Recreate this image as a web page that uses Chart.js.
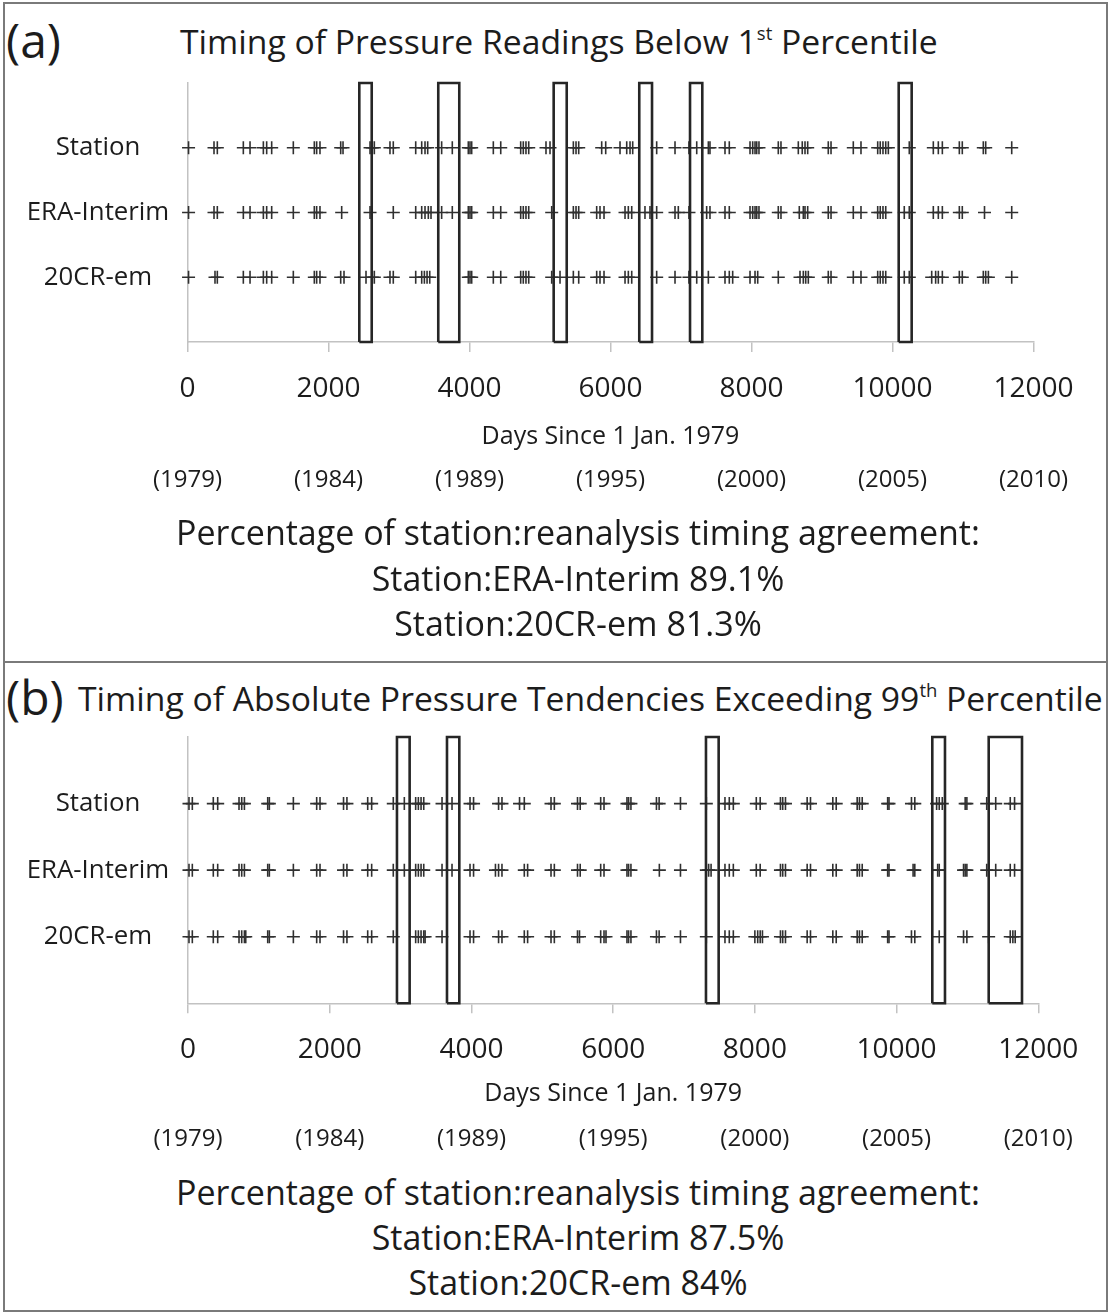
<!DOCTYPE html>
<html>
<head>
<meta charset="utf-8">
<script src="https://cdn.jsdelivr.net/npm/chart.js@4.4.1/dist/chart.umd.min.js"></script>
<style>
  html, body { margin: 0; padding: 0; background: #fff; }
  body { width: 1109px; height: 1313px; position: relative; overflow: hidden;
         font-family: "Open Sans", sans-serif; color: #1c1c1c; }
  .frame { position: absolute; left: 3px; top: 2px; width: 1101px; height: 1306px; border: 2px solid #7a7a7a; }
  .divider { position: absolute; left: 3px; top: 661px; width: 1105px; height: 2px; background: #7a7a7a; }
  .t { position: absolute; white-space: nowrap; }
  .c { left: 0; width: 1156px; text-align: center; }
  .tag { font-size: 48px; line-height: 64px; }
  .head { font-size: 33.7px; line-height: 46px; }
  .note { font-size: 34px; line-height: 46px; }
  sup { font-size: 0.55em; vertical-align: 0.75em; line-height: 0; }
  canvas { position: absolute; left: 0; }
</style>
</head>
<body>
<div class="frame"></div>
<div class="divider"></div>

<div class="t tag" style="left:6px;top:8px;">(a)</div>
<div class="t head" style="left:180px;top:18px;">Timing of Pressure Readings Below 1<sup>st</sup> Percentile</div>
<canvas id="panelA" width="1109" height="450" style="top:60px"></canvas>
<div class="t c note" style="top:509px;">Percentage of station:reanalysis timing agreement:</div>
<div class="t c note" style="top:555px;">Station:ERA-Interim 89.1%</div>
<div class="t c note" style="top:600px;">Station:20CR-em 81.3%</div>

<div class="t tag" style="left:6px;top:665px;">(b)</div>
<div class="t head" style="left:78px;top:675px;">Timing of Absolute Pressure Tendencies Exceeding 99<sup>th</sup> Percentile</div>
<canvas id="panelB" width="1109" height="450" style="top:715px"></canvas>
<div class="t c note" style="top:1169px;">Percentage of station:reanalysis timing agreement:</div>
<div class="t c note" style="top:1214px;">Station:ERA-Interim 87.5%</div>
<div class="t c note" style="top:1259px;">Station:20CR-em 84%</div>

<script>
// ---- rows, ticks and labels ----
const rowNames  = ['Station', 'ERA-Interim', '20CR-em'];
const rowLevels = [3, 2, 1];
const xTickValues = [0, 2000, 4000, 6000, 8000, 10000, 12000];
const yearLabels  = ['(1979)', '(1984)', '(1989)', '(1995)', '(2000)', '(2005)', '(2010)'];

// ---- (a) days (since 1 Jan 1979) with pressure below the 1st percentile ----
const stationLow = [15, 376, 423, 792, 887, 1076, 1123, 1194, 1501, 1799, 1832, 1879, 2173, 2206,
  2589, 2621, 2650, 2872, 2919, 3237, 3322, 3369, 3407, 3605, 3756, 3983, 4007, 4031, 4338, 4443,
  4726, 4763, 4801, 4840, 5085, 5142, 5473, 5511, 5549, 5875, 5932, 6135, 6230, 6277, 6315, 6655,
  6915, 7113, 7223, 7388, 7411, 7624, 7685, 7979, 8017, 8050, 8074, 8106, 8380, 8418, 8664, 8720,
  8759, 8797, 9089, 9128, 9444, 9553, 9790, 9826, 9865, 9904, 9941, 10238, 10579, 10650, 10707,
  10948, 10990, 11288, 11322, 11691];
const eraLow = [15, 376, 423, 792, 887, 1076, 1123, 1194, 1501, 1799, 1832, 1879, 2187, 2589, 2919,
  3237, 3322, 3369, 3416, 3454, 3605, 3756, 3983, 4007, 4031, 4338, 4443, 4726, 4763, 4801, 4840,
  5166, 5473, 5511, 5549, 5804, 5851, 5908, 6206, 6253, 6301, 6489, 6560, 6655, 6915, 6962, 7113,
  7364, 7411, 7624, 7685, 7979, 8017, 8050, 8074, 8106, 8380, 8418, 8678, 8735, 8759, 8797, 9089,
  9128, 9444, 9553, 9790, 9826, 9865, 9904, 10167, 10238, 10579, 10650, 10707, 10948, 10990, 11305,
  11691];
const crLow = [15, 390, 423, 792, 887, 1076, 1123, 1194, 1501, 1799, 1832, 1879, 2173, 2220, 2532,
  2621, 2650, 2872, 2919, 3237, 3322, 3360, 3398, 3436, 3983, 4007, 4031, 4338, 4443, 4726, 4763,
  4801, 4840, 5166, 5284, 5473, 5549, 5804, 5851, 5908, 6206, 6253, 6301, 6655, 6915, 7113, 7223,
  7388, 7624, 7685, 7733, 7979, 8050, 8088, 8380, 8688, 8735, 8769, 8806, 9089, 9128, 9444, 9553,
  9790, 9826, 9865, 9904, 10167, 10238, 10556, 10612, 10650, 10707, 10948, 10990, 11288, 11322,
  11360, 11691];
const lowBoxStart = [2437, 3557, 5194, 6408, 7128, 10088];
const lowBoxEnd   = [2613, 3855, 5379, 6589, 7302, 10272];

// ---- (b) days with absolute pressure tendency above the 99th percentile ----
const stationTend = [14, 61, 357, 419, 720, 758, 796, 1125, 1148, 1487, 1816, 1863, 2195, 2243,
  2536, 2592, 2897, 3053, 3213, 3251, 3289, 3327, 3585, 3726, 3980, 4030, 4383, 4431, 4679, 4746,
  5123, 5170, 5497, 5535, 5824, 5871, 6195, 6218, 6251, 6611, 6649, 6950, 7315, 7578, 7639, 7696,
  8020, 8075, 8361, 8393, 8432, 8738, 8785, 9100, 9148, 9444, 9476, 9515, 9874, 9893, 10210, 10257,
  10565, 10602, 10645, 10968, 10992, 11272, 11399, 11604, 11665];
const eraTend = [14, 61, 357, 419, 720, 758, 796, 1125, 1148, 1487, 1816, 1863, 2195, 2243, 2536,
  2592, 2897, 3053, 3213, 3251, 3289, 3327, 3585, 3726, 3980, 4030, 4339, 4383, 4431, 4746, 4793,
  5123, 5170, 5497, 5535, 5824, 5871, 6195, 6218, 6251, 6652, 6950, 7315, 7348, 7382, 7578, 7639,
  7696, 8020, 8075, 8361, 8393, 8432, 8738, 8785, 9100, 9148, 9444, 9476, 9515, 9874, 9893, 10233,
  10257, 10580, 10602, 10945, 10968, 10992, 11272, 11399, 11604, 11665];
const crTend = [14, 61, 357, 419, 720, 758, 796, 815, 1125, 1148, 1487, 1816, 1863, 2195, 2243,
  2536, 2592, 2897, 3213, 3251, 3289, 3327, 3346, 3585, 3980, 4030, 4383, 4431, 4746, 4793, 5123,
  5170, 5497, 5525, 5824, 5871, 5899, 6195, 6218, 6251, 6611, 6649, 6950, 7315, 7578, 7639, 7696,
  8000, 8040, 8075, 8107, 8361, 8393, 8432, 8738, 8785, 9100, 9148, 9444, 9476, 9515, 9874, 9893,
  10210, 10257, 10602, 10945, 10992, 11299, 11604, 11641, 11674];
const tendBoxStart = [2949, 3655, 7310, 10504, 11300];
const tendBoxEnd   = [3128, 3829, 7489, 10683, 11770];

const FONT = '"Open Sans", sans-serif';
const INK = '#1c1c1c';
const AXIS = '#c2c2c2';
const LABEL_SIZE = 25.8;
const LABEL_CENTER = 98;   // row labels are centred on this x

function widestLabel() {
  const ctx = document.createElement('canvas').getContext('2d');
  ctx.font = LABEL_SIZE + 'px ' + FONT;
  return Math.max(...rowNames.map(n => ctx.measureText(n).width));
}

function buildPanel(id, rows, boxStart, boxEnd, g) {
  const markers = rows.map((days, i) => ({
    label: rowNames[i],
    data: days.map(d => ({ x: d, y: rowLevels[i] })),
    showLine: false,
    pointStyle: 'cross',
    pointRadius: 6.5,
    pointHoverRadius: 6.5,
    pointBorderWidth: 1.6,
    pointBorderColor: '#303030',
    borderColor: '#303030',
    clip: false
  }));
  const boxes = boxStart.map((s, i) => ({
    label: 'box' + i,
    data: [{ x: s, y: 0 }, { x: s, y: 4 }, { x: boxEnd[i], y: 4 }, { x: boxEnd[i], y: 0 }, { x: s, y: 0 }],
    showLine: true,
    fill: false,
    tension: 0,
    borderColor: '#262626',
    borderWidth: 2.6,
    borderJoinStyle: 'miter',
    pointRadius: 0,
    clip: false
  }));
  // gap between the centred row labels and the axis line (kept as tick length so it
  // does not add to the axis' top/bottom padding)
  const labelGap = g.yWidth - widestLabel() / 2 - LABEL_CENTER;

  new Chart(document.getElementById(id), {
    type: 'scatter',
    data: { datasets: [...boxes, ...markers] },
    options: {
      responsive: false,
      animation: false,
      devicePixelRatio: 1,
      events: [],
      layout: { padding: { top: g.padTop, left: 0, right: g.padRight, bottom: g.padBottom } },
      plugins: { legend: { display: false }, tooltip: { enabled: false } },
      scales: {
        x: {
          type: 'linear', position: 'bottom', min: 0, max: 12000, weight: 0,
          afterBuildTicks: s => { s.ticks = xTickValues.map(v => ({ value: v })); },
          ticks: { callback: v => String(v), font: { family: FONT, size: 28 }, color: INK,
                   padding: g.tickPad, maxRotation: 0, autoSkip: false },
          grid: { drawOnChartArea: false, color: AXIS, tickLength: 10, lineWidth: 1.5 },
          border: { color: AXIS, width: 1.5 },
          title: { display: true, text: 'Days Since 1 Jan. 1979', font: { family: FONT, size: 25 },
                   color: INK, padding: { top: 0, bottom: 0 } },
          afterFit: s => { s.height = g.xHeight; }
        },
        years: {
          type: 'linear', position: 'bottom', min: 0, max: 12000, weight: 1,
          afterBuildTicks: s => { s.ticks = xTickValues.map(v => ({ value: v })); },
          ticks: { callback: (v, i) => yearLabels[i], font: { family: FONT, size: 24 }, color: INK,
                   padding: g.yearPad, maxRotation: 0, autoSkip: false },
          grid: { display: false, drawTicks: false },
          border: { display: false },
          afterFit: s => { s.height = g.yearHeight; }
        },
        y: {
          type: 'linear', min: 0, max: 4,
          afterBuildTicks: s => { s.ticks = [0, 1, 2, 3, 4].map(v => ({ value: v })); },
          ticks: {
            callback: v => { const i = rowLevels.indexOf(v); return i >= 0 ? rowNames[i] : ''; },
            crossAlign: 'center', font: { family: FONT, size: LABEL_SIZE }, color: INK, padding: 0
          },
          grid: { drawOnChartArea: false, tickLength: labelGap, tickColor: 'rgba(0,0,0,0)' },
          border: { color: AXIS, width: 1.5 },
          afterFit: s => { s.width = g.yWidth; }
        }
      }
    }
  });
}

buildPanel('panelA', [stationLow, eraLow, crLow], lowBoxStart, lowBoxEnd, {
  padTop: 23, padRight: 75.5, padBottom: 13, yWidth: 187.5,
  xHeight: 110, yearHeight: 45, tickPad: 19.9, yearPad: 13.6
});
buildPanel('panelB', [stationTend, eraTend, crTend], tendBoxStart, tendBoxEnd, {
  padTop: 22, padRight: 70.7, padBottom: 11, yWidth: 188,
  xHeight: 105.7, yearHeight: 45, tickPad: 19.9, yearPad: 15.6
});
</script>
</body>
</html>
